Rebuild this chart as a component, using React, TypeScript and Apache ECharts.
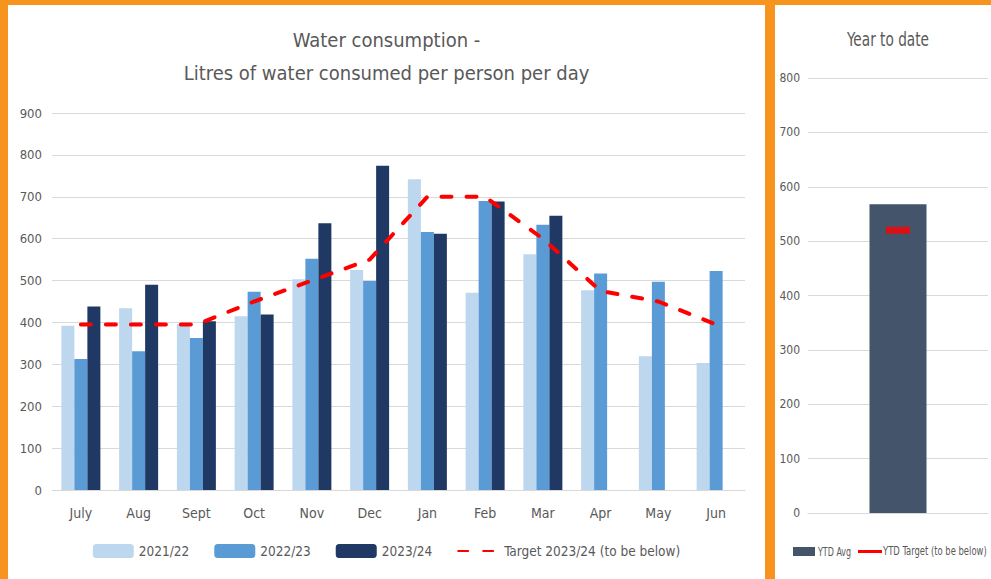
import React, { useEffect, useRef } from "react";
import * as echarts from "echarts";

const months = ["July", "Aug", "Sept", "Oct", "Nov", "Dec", "Jan", "Feb", "Mar", "Apr", "May", "Jun"];
const y2122 = [392, 434, 396, 415, 503, 525, 742, 471, 563, 477, 319, 303];
const y2223 = [313, 331, 363, 473, 552, 499, 616, 690, 633, 517, 497, 523];
const y2324: (number | null)[] = [438, 490, 403, 419, 637, 774, 612, 689, 655, null, null, null];
const target2324 = [395, 395, 395, 450, 500, 550, 700, 700, 600, 475, 450, 395];

const ytdCategories = ["YTD"];
const ytdAvg = [568];
const ytdTarget = [520];

const FONT = "'DejaVu Sans Condensed', 'Open Sans', sans-serif";
const TXT = "#595959";
const GRIDC = "#D9D9D9";

function LeftChart() {
  const ref = useRef<HTMLDivElement>(null);
  useEffect(() => {
    const chart = echarts.init(ref.current!, null, { renderer: "svg" });
    chart.setOption({
      animation: false,
      textStyle: { fontFamily: FONT },
      title: {
        text: "Water consumption -\nLitres of water consumed per person per day",
        left: "center",
        top: 13,
        textStyle: { fontFamily: FONT, fontSize: 20, fontWeight: "normal", color: TXT, lineHeight: 33 },
      },
      legend: {
        bottom: 16,
        left: "center",
        itemWidth: 41,
        itemHeight: 14,
        itemGap: 25,
        textStyle: { fontFamily: FONT, fontSize: 13.5, color: TXT },
        data: [
          "2021/22",
          "2022/23",
          "2023/24",
          { name: "Target 2023/24 (to be below)", itemStyle: { color: "rgba(0,0,0,0)", borderWidth: 0 } },
        ],
      },
      grid: { left: 44, right: 20, top: 108, bottom: 89 },
      xAxis: {
        type: "category",
        data: months,
        axisLine: { lineStyle: { color: GRIDC, width: 1 } },
        axisTick: { show: false },
        axisLabel: { color: TXT, fontFamily: FONT, fontSize: 14, margin: 16 },
      },
      yAxis: {
        type: "value",
        min: 0,
        max: 900,
        interval: 100,
        axisLabel: { color: TXT, fontFamily: FONT, fontSize: 13, margin: 10 },
        splitLine: { lineStyle: { color: GRIDC, width: 1 } },
        axisLine: { show: false },
        axisTick: { show: false },
      },
      series: [
        { name: "2021/22", type: "bar", data: y2122, barWidth: 13, barGap: "0%", itemStyle: { color: "#BDD7EE" } },
        { name: "2022/23", type: "bar", data: y2223, barWidth: 13, barGap: "0%", itemStyle: { color: "#5B9BD5" } },
        { name: "2023/24", type: "bar", data: y2324, barWidth: 13, barGap: "0%", itemStyle: { color: "#203864" } },
        {
          name: "Target 2023/24 (to be below)",
          type: "line",
          data: target2324,
          symbol: "none",
          z: 5,
          itemStyle: { color: "#FF0000" },
          lineStyle: { color: "#FF0000", width: 4, type: [10, 15], cap: "round" },
        },
      ],
    });
    return () => chart.dispose();
  }, []);
  return <div ref={ref} style={{ width: 757, height: 574 }} />;
}

function RightChart() {
  const ref = useRef<HTMLDivElement>(null);
  useEffect(() => {
    const chart = echarts.init(ref.current!, null, { renderer: "svg" });
    chart.setOption({
      animation: false,
      textStyle: { fontFamily: FONT },
      graphic: [
        {
          type: "text",
          x: 113,
          y: 34,
          scaleX: 0.8,
          style: {
            text: "Year to date",
            fontFamily: FONT,
            fontSize: 19,
            fill: TXT,
            align: "center",
            verticalAlign: "middle",
          },
        },
        { type: "rect", shape: { x: 18, y: 542, width: 22, height: 9 }, style: { fill: "#44546A" } },
        {
          type: "text",
          x: 43,
          y: 546,
          scaleX: 0.74,
          style: { text: "YTD Avg", fontFamily: FONT, fontSize: 12, fill: TXT, verticalAlign: "middle" },
        },
        { type: "rect", shape: { x: 83, y: 545, width: 24, height: 3 }, style: { fill: "#FF0000" } },
        {
          type: "text",
          x: 108,
          y: 546,
          scaleX: 0.78,
          style: {
            text: "YTD Target (to be below)",
            fontFamily: FONT,
            fontSize: 12,
            fill: TXT,
            verticalAlign: "middle",
          },
        },
      ],
      grid: { left: 33, right: 3, top: 73, bottom: 66 },
      xAxis: {
        type: "category",
        data: ytdCategories,
        axisLine: { lineStyle: { color: GRIDC } },
        axisTick: { show: false },
        axisLabel: { show: false },
      },
      yAxis: {
        type: "value",
        min: 0,
        max: 800,
        interval: 100,
        axisLabel: { color: TXT, fontFamily: FONT, fontSize: 12, margin: 8 },
        splitLine: { lineStyle: { color: GRIDC } },
        axisLine: { show: false },
        axisTick: { show: false },
      },
      series: [
        { name: "YTD Avg", type: "bar", data: ytdAvg, barWidth: 57, itemStyle: { color: "#44546A" } },
        {
          name: "YTD Target (to be below)",
          type: "scatter",
          data: ytdTarget,
          symbol: "rect",
          symbolSize: [24, 7],
          z: 5,
          itemStyle: { color: "#FF0000" },
        },
      ],
    });
    return () => chart.dispose();
  }, []);
  return <div ref={ref} style={{ width: 216, height: 574 }} />;
}

export default function App() {
  return (
    <div style={{ position: "fixed", left: 0, top: 0, width: 991, height: 579, background: "#F7941D", overflow: "hidden" }}>
      <div style={{ position: "absolute", left: 8, top: 5, width: 757, height: 574, background: "#FFFFFF" }}>
        <LeftChart />
      </div>
      <div style={{ position: "absolute", left: 775, top: 5, width: 216, height: 574, background: "#FFFFFF" }}>
        <RightChart />
      </div>
    </div>
  );
}
